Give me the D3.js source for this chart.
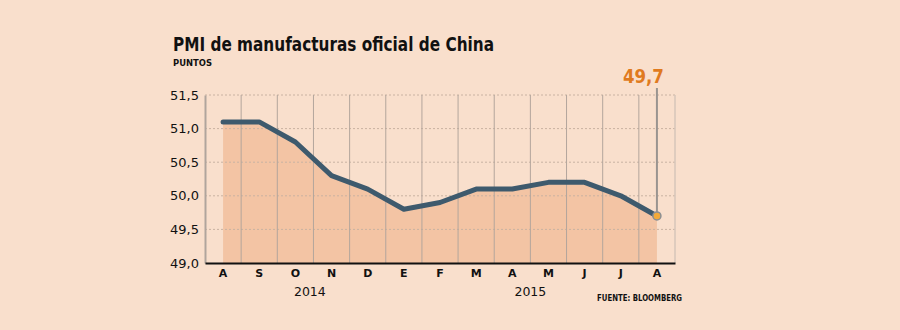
<!DOCTYPE html>
<html>
<head>
<meta charset="utf-8">
<script src="https://cdn.jsdelivr.net/npm/d3@7"></script>
<style>
  html, body { margin: 0; padding: 0; background: #f9dfcc; }
  svg { display: block; }
  text { font-family: "DejaVu Sans", sans-serif; }
</style>
</head>
<body>
<svg id="chart" width="900" height="330"></svg>
<script>
// Monthly official China manufacturing PMI, Aug 2014 – Aug 2015
const months = ["A", "S", "O", "N", "D", "E", "F", "M", "A", "M", "J", "J", "A"];
const pmi = [51.1, 51.1, 50.8, 50.3, 50.1, 49.8, 49.9, 50.1, 50.1, 50.2, 50.2, 50.0, 49.7];
const yTicks = [49.0, 49.5, 50.0, 50.5, 51.0, 51.5];
// year captions, positioned by (fractional) month index
const years = [{ label: "2014", at: 2.4 }, { label: "2015", at: 8.5 }];
const highlight = { index: 12, label: "49,7" };

const data = months.map((m, i) => ({ i, m, v: pmi[i] }));
const fmt = d => d3.format(".1f")(d).replace(".", ",");

const svg = d3.select("#chart");
const plotL = 205, plotR = 675, plotT = 95, plotB = 263;

const x = d3.scaleBand().domain(d3.range(months.length)).range([plotL, plotR]).padding(0);
const cx = i => x(i) + x.bandwidth() / 2;
const xf = f => x(0) + x.bandwidth() * (f + 0.5);
const y = d3.scaleLinear().domain([49.0, 51.5]).range([plotB, plotT]);

// Title and unit
svg.append("text").attr("x", 173).attr("y", 51)
  .attr("font-size", 19).attr("font-weight", "bold").attr("fill", "#111")
  .attr("textLength", 321).attr("lengthAdjust", "spacingAndGlyphs")
  .text("PMI de manufacturas oficial de China");
svg.append("text").attr("x", 173).attr("y", 66)
  .attr("font-size", 9).attr("font-weight", "bold").attr("fill", "#111")
  .attr("textLength", 39).attr("lengthAdjust", "spacingAndGlyphs")
  .text("PUNTOS");

// Area under the line
const area = d3.area().x(d => cx(d.i)).y0(y(49.0)).y1(d => y(d.v));
svg.append("path").datum(data).attr("d", area).attr("fill", "#f3c4a4");

// Horizontal dotted gridlines
svg.append("g").selectAll("line").data(yTicks.filter(t => t > 49.0)).join("line")
  .attr("x1", plotL).attr("x2", plotR + 2)
  .attr("y1", d => y(d)).attr("y2", d => y(d))
  .attr("stroke", "#c9b2a2").attr("stroke-width", 1).attr("stroke-dasharray", "2,2");

// Vertical gridlines at month boundaries
const bounds = d3.range(1, months.length);
svg.append("g").selectAll("line").data(bounds).join("line")
  .attr("x1", d => x(d)).attr("x2", d => x(d))
  .attr("y1", plotT).attr("y2", plotB)
  .attr("stroke", "#b3a69c").attr("stroke-width", 1);
svg.append("line").attr("x1", plotR).attr("x2", plotR).attr("y1", plotT).attr("y2", plotB)
  .attr("stroke", "#d6c6ba").attr("stroke-width", 1.5);

// Y axis
const yAxis = d3.axisLeft(y).tickValues(yTicks).tickFormat(fmt).tickSize(0).tickPadding(6);
const gy = svg.append("g").attr("transform", `translate(${plotL},0)`).call(yAxis);
gy.select(".domain").attr("stroke", "#b0a59d").attr("stroke-width", 2);
gy.selectAll("text").attr("font-size", 13).attr("fill", "#111")
  .style("font-family", '"DejaVu Sans", sans-serif');

// X axis
const xAxis = d3.axisBottom(x).tickFormat(i => months[i]).tickSize(0).tickPadding(6);
const gx = svg.append("g").attr("transform", `translate(0,${plotB})`).call(xAxis);
gx.select(".domain").attr("stroke", "#111").attr("stroke-width", 2);
gx.selectAll("text").attr("font-size", 11).attr("font-weight", "bold").attr("fill", "#111")
  .style("font-family", '"DejaVu Sans", sans-serif');

// Year labels under the month groups
svg.append("g").selectAll("text").data(years).join("text")
  .attr("x", d => xf(d.at))
  .attr("y", 296).attr("text-anchor", "middle")
  .attr("font-size", 12.5).attr("fill", "#111")
  .text(d => d.label);

// Marker line to the highlight label
const hp = data[highlight.index];
svg.append("line").attr("x1", cx(hp.i)).attr("x2", cx(hp.i))
  .attr("y1", 88).attr("y2", y(hp.v))
  .attr("stroke", "#9a9490").attr("stroke-width", 2);

// PMI line
const line = d3.line().x(d => cx(d.i)).y(d => y(d.v));
svg.append("path").datum(data).attr("d", line)
  .attr("fill", "none").attr("stroke", "#3e5a6d").attr("stroke-width", 5)
  .attr("stroke-linejoin", "round").attr("stroke-linecap", "round");

// Highlighted last point
svg.append("circle").attr("cx", cx(hp.i)).attr("cy", y(hp.v)).attr("r", 4)
  .attr("fill", "#f2aa3a").attr("stroke", "#8b8f93").attr("stroke-width", 1.5);
svg.append("text").attr("x", cx(hp.i) + 7).attr("y", 83).attr("text-anchor", "end")
  .attr("font-size", 20).attr("font-weight", "bold").attr("fill", "#e07a1e")
  .attr("textLength", 41).attr("lengthAdjust", "spacingAndGlyphs")
  .text(highlight.label);

// Source
svg.append("text").attr("x", 682).attr("y", 301).attr("text-anchor", "end")
  .attr("font-size", 9).attr("font-weight", "bold").attr("fill", "#111")
  .attr("textLength", 85).attr("lengthAdjust", "spacingAndGlyphs")
  .text("FUENTE: BLOOMBERG");
</script>
</body>
</html>
